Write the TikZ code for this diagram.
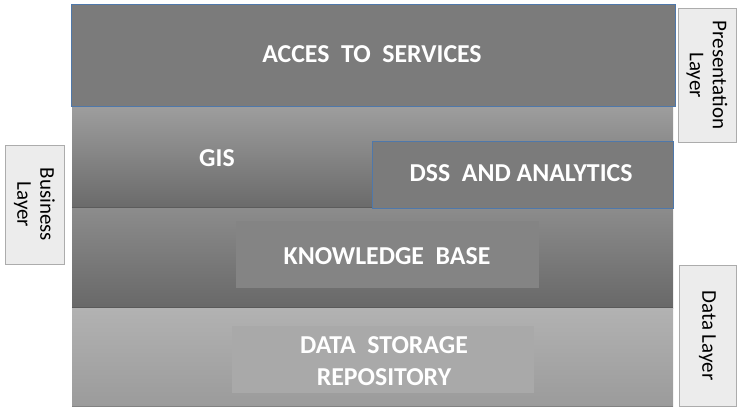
\documentclass[tikz,border=0pt]{standalone}
\usepackage{fontspec}
\setmainfont{Carlito}
\begin{document}
\begin{tikzpicture}[x=1pt,y=-1pt,
  boxline/.style={draw=edgeBlue, line width=1pt},
  darkbox/.style={boxline, fill=tileDark, inner sep=0pt},
  band/.style={inner sep=0pt, minimum width=601pt},
  inner/.style={inner sep=0pt, minimum width=303pt, minimum height=67pt},
  title/.style={text=white, font=\fontsize{25.8}{32}\selectfont\bfseries, align=center},
  layerbox/.style={draw=gray!65, fill=gray!15, line width=0.8pt, rotate=-90,
    inner sep=0pt, align=center, font=\fontsize{21}{23}\selectfont},
]
\definecolor{tileDark}{HTML}{7B7B7B}
\definecolor{edgeBlue}{RGB}{79,120,170}
\useasboundingbox (0,0) rectangle (739,408);

% business band (GIS row)
\node[band, minimum height=102pt, top color={rgb,255:red,158;green,158;blue,158},
  bottom color={rgb,255:red,106;green,106;blue,106}] (bizband) at (372.5,157) {};
\draw[line width=1.5pt, color={rgb,255:red,92;green,92;blue,92}]
  (bizband.south west) -- (bizband.south east);

% knowledge band
\node[band, minimum height=100pt, top color={rgb,255:red,140;green,140;blue,140},
  bottom color={rgb,255:red,104;green,104;blue,104}] (kbband) at (372.5,258) {};
\draw[line width=1.5pt, color={rgb,255:red,90;green,90;blue,90}]
  (kbband.south west) -- (kbband.south east);

% data band
\node[band, minimum height=98pt, top color={rgb,255:red,178;green,178;blue,178},
  bottom color={rgb,255:red,155;green,155;blue,155}] (databand) at (372.5,357) {};
\draw[line width=1pt, color={rgb,255:red,130;green,130;blue,130}]
  (databand.south west) -- (databand.south east);

% top layer
\node[darkbox, minimum width=604pt, minimum height=102pt] (acc) at (373,55) {};
\node[title] (acctext) at (372,54) {ACCES\ \ TO\ \ SERVICES};

% business components
\node[title] (gis) at (217,158) {GIS};
\node[darkbox, minimum width=301pt, minimum height=67pt] (dss) at (522.5,174.5) {};
\node[title] (dsstext) at (521,173) {DSS\ \ AND ANALYTICS};

% knowledge base
\node[inner, fill={rgb,255:red,132;green,132;blue,132}] (kb) at (387.5,254.5) {};
\node[title] (kbtext) at (387,256) {KNOWLEDGE\ \ BASE};

% data storage
\node[inner, minimum width=302pt, fill={rgb,255:red,169;green,169;blue,169}] (ds) at (383,359.5) {};
\node[title] (dstext) at (384,361) {DATA\ \ STORAGE\\REPOSITORY};

% side labels
\node[layerbox, minimum width=119pt, minimum height=59pt] (bizlabel) at (34.5,204.5) {Business\\Layer};
\node[layerbox, minimum width=134pt, minimum height=58pt] (preslabel) at (707,75) {Presentation\\Layer};
\node[layerbox, minimum width=141pt, minimum height=57pt] (datalabel) at (707.5,335.5) {Data Layer};
\end{tikzpicture}
\end{document}
